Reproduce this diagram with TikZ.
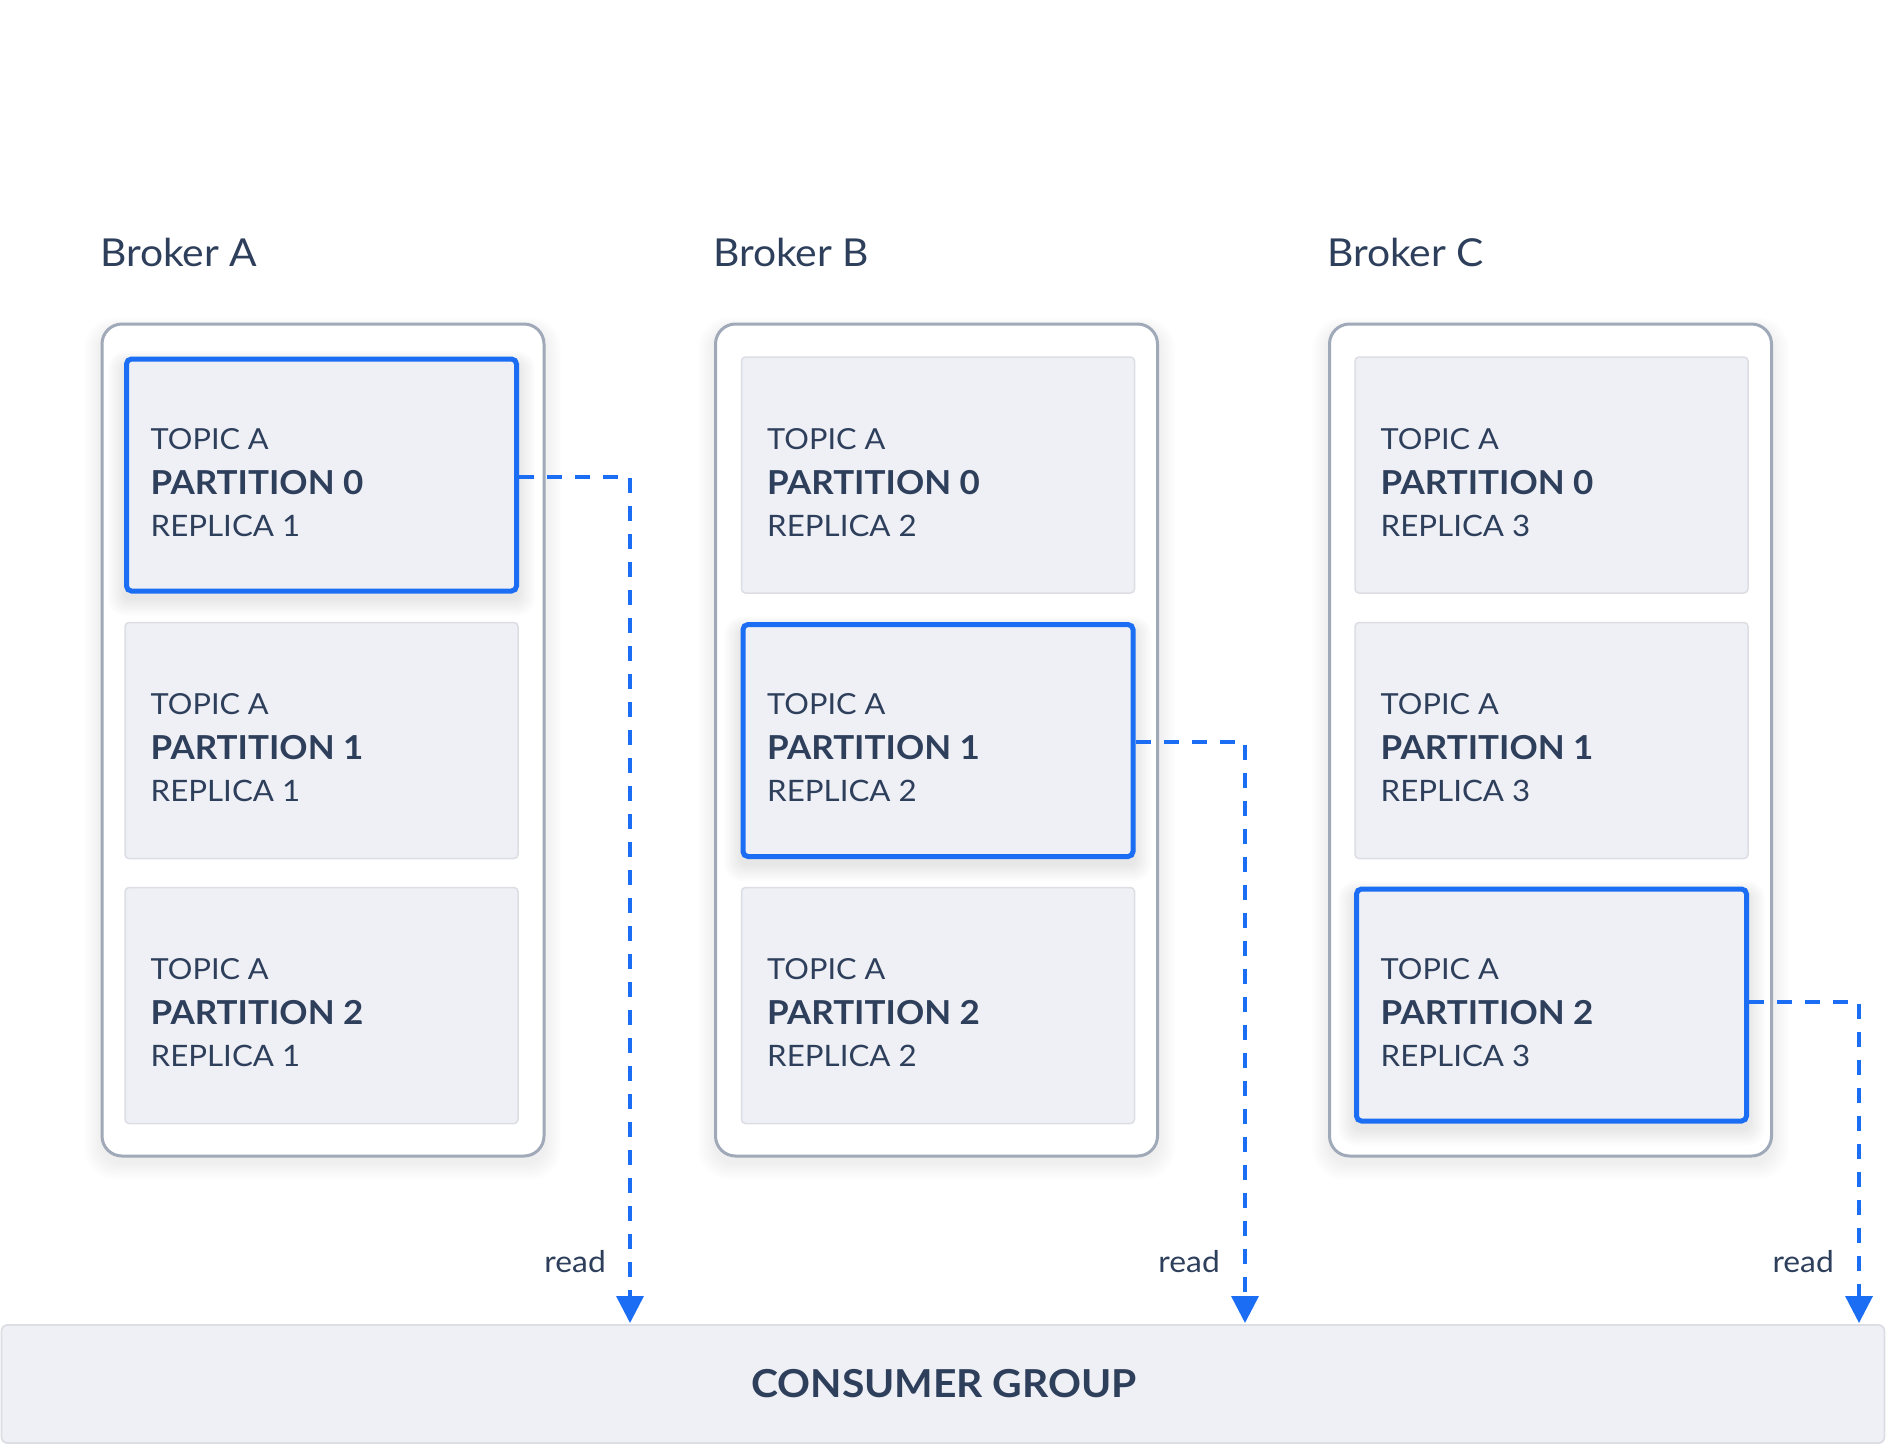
\documentclass[tikz,border=0pt]{standalone}
\usepackage{fontspec}
\setmainfont{Lato}[FakeStretch=1.06]
\usetikzlibrary{arrows.meta}
\definecolor{txt}{HTML}{2E3F5C}
\definecolor{kblue}{HTML}{1B6EF3}
\definecolor{pfill}{HTML}{EFF0F5}
\definecolor{pline}{HTML}{DCDEE4}
\definecolor{cline}{HTML}{A0A9B8}
\tikzset{
  container/.style={draw=cline, line width=3pt, rounded corners=20pt, fill=white,
    minimum width=442pt, minimum height=832pt, inner sep=0pt},
  partbox/.style={draw=pline, line width=1.5pt, rounded corners=4pt, fill=pfill,
    minimum width=393pt, minimum height=236pt, inner sep=0pt},
  leaderbox/.style={draw=kblue, line width=5pt, rounded corners=5pt, fill=pfill,
    minimum width=390pt, minimum height=232pt, inner sep=0pt},
  toptxt/.style={anchor=base west, inner sep=0pt, text=txt, font=\fontsize{29}{34}\selectfont},
  parttxt/.style={anchor=base west, inner sep=0pt, text=txt, font=\fontsize{33}{38}\selectfont\bfseries},
  reptxt/.style={anchor=base west, inner sep=0pt, text=txt, font=\fontsize{29.5}{34}\selectfont},
  brokertxt/.style={anchor=base west, inner sep=0pt, text=txt, font=\fontsize{38.5}{46}\selectfont},
  readtxt/.style={anchor=base east, inner sep=0pt, text=txt, font=\fontsize{30}{36}\selectfont},
  readline/.style={draw=kblue, line width=3.5pt, dash pattern=on 15pt off 13pt,
    -{Triangle[length=27pt,width=27pt]}},
}
\newcommand{\shadowbox}[6]{% cx cy w h radius opacity
  \foreach \k in {1,...,8}{
    \fill[black, opacity=#6, rounded corners=#5+\k*1.5pt]
      ({#1-#3/2-\k*2.2}, {#2-#4/2-\k*1.6+6}) rectangle ({#1+#3/2+\k*2.2}, {#2+#4/2+\k*2.2+6});
  }
}
\newcommand{\parttext}[5]{% name cx cy part replica
  \node[toptxt] (#1t) at ({#2-171}, {#3-26}) {TOPIC A};
  \node[parttxt] (#1p) at ({#2-171}, {#3+19}) {PARTITION #4};
  \node[reptxt] (#1r) at ({#2-171}, {#3+61}) {REPLICA #5};
}
\begin{document}
\begin{tikzpicture}[x=1pt, y=-1pt]
\useasboundingbox (0,0) rectangle (1886,1444);
\fill[white] (0,0) rectangle (1886,1444);

% broker labels
\node[brokertxt] (lblA) at (100,266) {Broker A};
\node[brokertxt] (lblB) at (713,266) {Broker B};
\node[brokertxt] (lblC) at (1327,266) {Broker C};

% container shadows
\shadowbox{323}{740}{442}{832}{20pt}{0.008}
\shadowbox{936.5}{740}{442}{832}{20pt}{0.008}
\shadowbox{1550.5}{740}{442}{832}{20pt}{0.008}

% containers
\node[container] (brA) at (323,740) {};
\node[container] (brB) at (936.5,740) {};
\node[container] (brC) at (1550.5,740) {};

% leader shadows
\shadowbox{321.5}{475}{392}{234}{6pt}{0.012}
\shadowbox{938}{740.5}{392}{234}{6pt}{0.012}
\shadowbox{1551.5}{1005}{392}{234}{6pt}{0.012}

% broker A
\node[leaderbox] (a0) at (321.5,475) {};
\node[partbox] (a1) at (321.5,740.5) {};
\node[partbox] (a2) at (321.5,1005.5) {};
% broker B
\node[partbox] (b0) at (938,475) {};
\node[leaderbox] (b1) at (938,740.5) {};
\node[partbox] (b2) at (938,1005.5) {};
% broker C
\node[partbox] (c0) at (1551.5,475) {};
\node[partbox] (c1) at (1551.5,740.5) {};
\node[leaderbox] (c2) at (1551.5,1005) {};

\parttext{a0}{321.5}{475}{0}{1}
\parttext{a1}{321.5}{740.5}{1}{1}
\parttext{a2}{321.5}{1005.5}{2}{1}
\parttext{b0}{938}{475}{0}{2}
\parttext{b1}{938}{740.5}{1}{2}
\parttext{b2}{938}{1005.5}{2}{2}
\parttext{c0}{1551.5}{475}{0}{3}
\parttext{c1}{1551.5}{740.5}{1}{3}
\parttext{c2}{1551.5}{1005.5}{2}{3}

% consumer group
\node[draw=pline, line width=1.8pt, fill=pfill, rounded corners=6pt,
  minimum width=1883pt, minimum height=118pt, inner sep=0pt] (cg) at (943,1384) {};
\node[inner sep=0pt, text=txt, font=\fontsize{38.5}{44}\selectfont\bfseries] (cgt) at (944,1384) {CONSUMER GROUP};

% read connectors
\coordinate (ta) at (630,1323);
\coordinate (tb) at (1245,1323);
\coordinate (tc) at (1859,1323);
\draw[readline] ([yshift=-2pt]a0.east) -- ([yshift=-2pt]ta |- a0.east) -- (ta);
\draw[readline] ([yshift=-1.5pt]b1.east) -- ([yshift=-1.5pt]tb |- b1.east) -- (tb);
\draw[readline] ([yshift=3pt]c2.east) -- ([yshift=3pt]tc |- c2.east) -- (tc);

\node[readtxt] (ra) at (606,1272) {read};
\node[readtxt] (rb) at (1220,1272) {read};
\node[readtxt] (rc) at (1834,1272) {read};
\end{tikzpicture}
\end{document}
